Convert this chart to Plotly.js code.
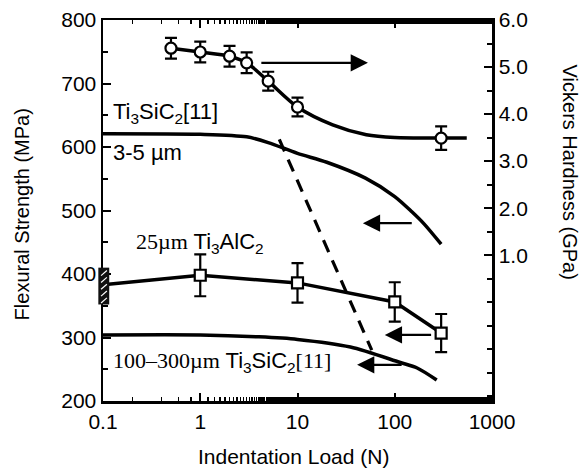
<!DOCTYPE html>
<html>
<head>
<meta charset="utf-8">
<script src="https://cdn.plot.ly/plotly-3.0.1.min.js"></script>
<style>html,body{margin:0;padding:0;background:#fff;}#chart{width:588px;height:470px;}</style>
</head>
<body>
<div id="chart"></div>
<script>
// Vickers hardness of Ti3SiC2 (right axis, GPa)
const hardLoad = [0.5, 1, 2, 3, 5, 10, 300];
const hardVal  = [5.40, 5.32, 5.23, 5.09, 4.70, 4.15, 3.49];
const hardErr  = [0.22, 0.22, 0.22, 0.22, 0.20, 0.20, 0.25];
const hardCurveLoad = [0.5, 1, 2, 3, 5, 10, 23, 51, 100, 300, 550];
const hardCurveVal  = [5.40, 5.32, 5.23, 5.09, 4.70, 4.15, 3.77, 3.56, 3.50, 3.49, 3.49];

// Ti3SiC2 [11] 3-5 um (left axis, MPa)
const fineLoad = [0.1, 1, 3, 5, 10, 20, 50, 100, 150, 200, 300];
const fineVal  = [621, 620, 616, 607, 590, 576, 551, 522, 498, 479, 447];

// 25 um Ti3AlC2 (left axis, MPa)
const alLineLoad = [0.1, 1, 10, 100, 300];
const alLineVal  = [383, 398, 386, 356, 307];
const alLoad = [1, 10, 100, 300];
const alVal  = [398, 386, 356, 307];
const alErr  = [33, 31, 31, 30];
const alZeroRange = [352, 410];

// 100-300 um Ti3SiC2 [11] (left axis, MPa)
const coarseLoad = [0.1, 1, 4, 10, 35, 112, 170, 270];
const coarseVal  = [304, 304, 301, 297, 285, 261, 252, 233];

// dashed transition line
const dashLoad = [6.5, 58];
const dashVal  = [612, 280];

const xTicks = [0.1, 1, 10, 100, 1000];
const xTickText = ['0.1', '1', '10', '100', '1000'];
const yTicks = [200, 300, 400, 500, 600, 700, 800];
const y2Ticks = [1, 2, 3, 4, 5, 6];
const y2TickText = ['1.0', '2.0', '3.0', '4.0', '5.0', '6.0'];

const LW = 3.5;
const traces = [
  {x: fineLoad, y: fineVal, mode: 'lines', line: {color: '#000', width: LW, shape: 'spline', smoothing: 0.8}, hoverinfo: 'skip'},
  {x: coarseLoad, y: coarseVal, mode: 'lines', line: {color: '#000', width: LW, shape: 'spline', smoothing: 0.8}, hoverinfo: 'skip'},
  {x: dashLoad, y: dashVal, mode: 'lines', line: {color: '#000', width: 3.2, dash: '13px,9px'}, hoverinfo: 'skip'},
  {x: alLineLoad, y: alLineVal, mode: 'lines', line: {color: '#000', width: LW}, hoverinfo: 'skip'},
  {x: alLoad, y: alVal, mode: 'markers', cliponaxis: false,
   marker: {symbol: 'square', size: 11, color: '#fff', line: {color: '#000', width: 2.2}},
   error_y: {type: 'data', array: alErr, visible: true, color: '#000', thickness: 2.2, width: 6}},
  {x: hardCurveLoad, y: hardCurveVal, yaxis: 'y2', mode: 'lines', line: {color: '#000', width: LW, shape: 'spline', smoothing: 0.8}, hoverinfo: 'skip'},
  {x: hardLoad, y: hardVal, yaxis: 'y2', mode: 'markers', cliponaxis: false,
   marker: {symbol: 'circle', size: 11, color: '#fff', line: {color: '#000', width: 2.2}},
   error_y: {type: 'data', array: hardErr, visible: true, color: '#000', thickness: 2.2, width: 6}}
];

const L = Math.log10;
const sans = 'Liberation Sans, Arial, Helvetica, sans-serif';
const serif = 'Liberation Serif, Times New Roman, serif';
const txtFont = {family: sans, size: 22, color: '#000'};
function arrow(x0, x1, y, yref) {
  return {x: L(x1), y: y, ax: L(x0), ay: y, xref: 'x', yref: yref, axref: 'x', ayref: yref,
          showarrow: true, arrowhead: 2, arrowsize: 1.5, arrowwidth: 2.3, arrowcolor: '#000', text: ''};
}
const titleFont = {family: sans, size: 20, color: '#000'};
const annotations = [
  arrow(4.1, 53, 5.09, 'y2'),
  arrow(155, 47, 480, 'y'),
  arrow(245, 79, 304, 'y'),
  arrow(122, 41, 257, 'y'),
  {x: L(0.122), y: 654, xref: 'x', yref: 'y', xanchor: 'left', yanchor: 'middle', showarrow: false,
   text: 'Ti<sub>3</sub>SiC<sub>2</sub>[11]', font: txtFont},
  {x: L(0.122), y: 592, xref: 'x', yref: 'y', xanchor: 'left', yanchor: 'middle', showarrow: false,
   text: '3-5 µm', font: txtFont},
  {x: L(0.21), y: 449, xref: 'x', yref: 'y', xanchor: 'left', yanchor: 'middle', showarrow: false,
   text: '<span style="font-family:' + serif + '">25µm</span> Ti<sub>3</sub>AlC<sub>2</sub>', font: txtFont},
  {x: L(0.122), y: 262, xref: 'x', yref: 'y', xanchor: 'left', yanchor: 'middle', showarrow: false,
   text: '<span style="font-family:' + serif + '">100–300µm</span> Ti<sub>3</sub>SiC<sub>2</sub><span style="font-family:' + serif + '">[11]</span>', font: txtFont},
  {x: -0.208, y: 0.49, xref: 'paper', yref: 'paper', xanchor: 'center', yanchor: 'middle', showarrow: false,
   textangle: -90, text: 'Flexural Strength (MPa)', font: titleFont},
  {x: 1.2, y: 0.6, xref: 'paper', yref: 'paper', xanchor: 'center', yanchor: 'middle', showarrow: false,
   textangle: 90, text: 'Vickers Hardness (GPa)', font: titleFont},
  {x: 0.49, y: -0.146, xref: 'paper', yref: 'paper', xanchor: 'center', yanchor: 'middle', showarrow: false,
   text: 'Indentation Load (N)', font: {family: sans, size: 21, color: '#000'}}
];

const shapes = [
  {type: 'rect', xref: 'paper', yref: 'y', x0: -0.012, x1: 0.016, y0: alZeroRange[0], y1: alZeroRange[1],
   fillcolor: '#111', line: {width: 0}, layer: 'above'}
];
for (let k = 0; k < 5; k++) {
  const yy = alZeroRange[0] + (k + 0.6) * (alZeroRange[1] - alZeroRange[0]) / 5.4;
  shapes.push({type: 'line', xref: 'paper', yref: 'y', x0: -0.005, x1: 0.01, y0: yy - 4, y1: yy + 4,
               line: {color: '#fff', width: 1.2}, layer: 'above'});
}

const axFont = {family: sans, size: 21, color: '#000'};
const layout = {
  width: 588, height: 470,
  margin: {l: 103, r: 96, t: 20, b: 69},
  paper_bgcolor: '#fff', plot_bgcolor: '#fff',
  showlegend: false,
  font: axFont,
  xaxis: {
    type: 'log', range: [-1, 3], tickvals: xTicks, ticktext: xTickText,
    showline: true, linecolor: '#000', linewidth: 2.5, mirror: 'ticks',
    ticks: 'inside', ticklen: 8, tickwidth: 2, tickcolor: '#000',
    minor: {ticks: 'inside', ticklen: 4, tickwidth: 1.5, tickcolor: '#000', showgrid: false},
    showgrid: false, zeroline: false, tickfont: axFont
  },
  yaxis: {
    range: [200, 800], tickvals: yTicks,
    showline: true, linecolor: '#000', linewidth: 2.5,
    ticks: 'inside', ticklen: 8, tickwidth: 2, tickcolor: '#000',
    minor: {ticks: 'inside', ticklen: 5, tickwidth: 2, tickcolor: '#000', dtick: 50, showgrid: false},
    showgrid: false, zeroline: false, tickfont: axFont
  },
  yaxis2: {
    overlaying: 'y', side: 'right', range: [-2.1, 6], tickvals: y2Ticks, ticktext: y2TickText,
    showline: true, linecolor: '#000', linewidth: 2.5,
    ticks: 'inside', ticklen: 8, tickwidth: 2, tickcolor: '#000',
    minor: {ticks: 'inside', ticklen: 5, tickwidth: 2, tickcolor: '#000', dtick: 0.5, showgrid: false},
    showgrid: false, zeroline: false, tickfont: axFont
  },
  annotations: annotations,
  shapes: shapes
};

Plotly.newPlot('chart', traces, layout, {displayModeBar: false, staticPlot: true});
</script>
</body>
</html>
